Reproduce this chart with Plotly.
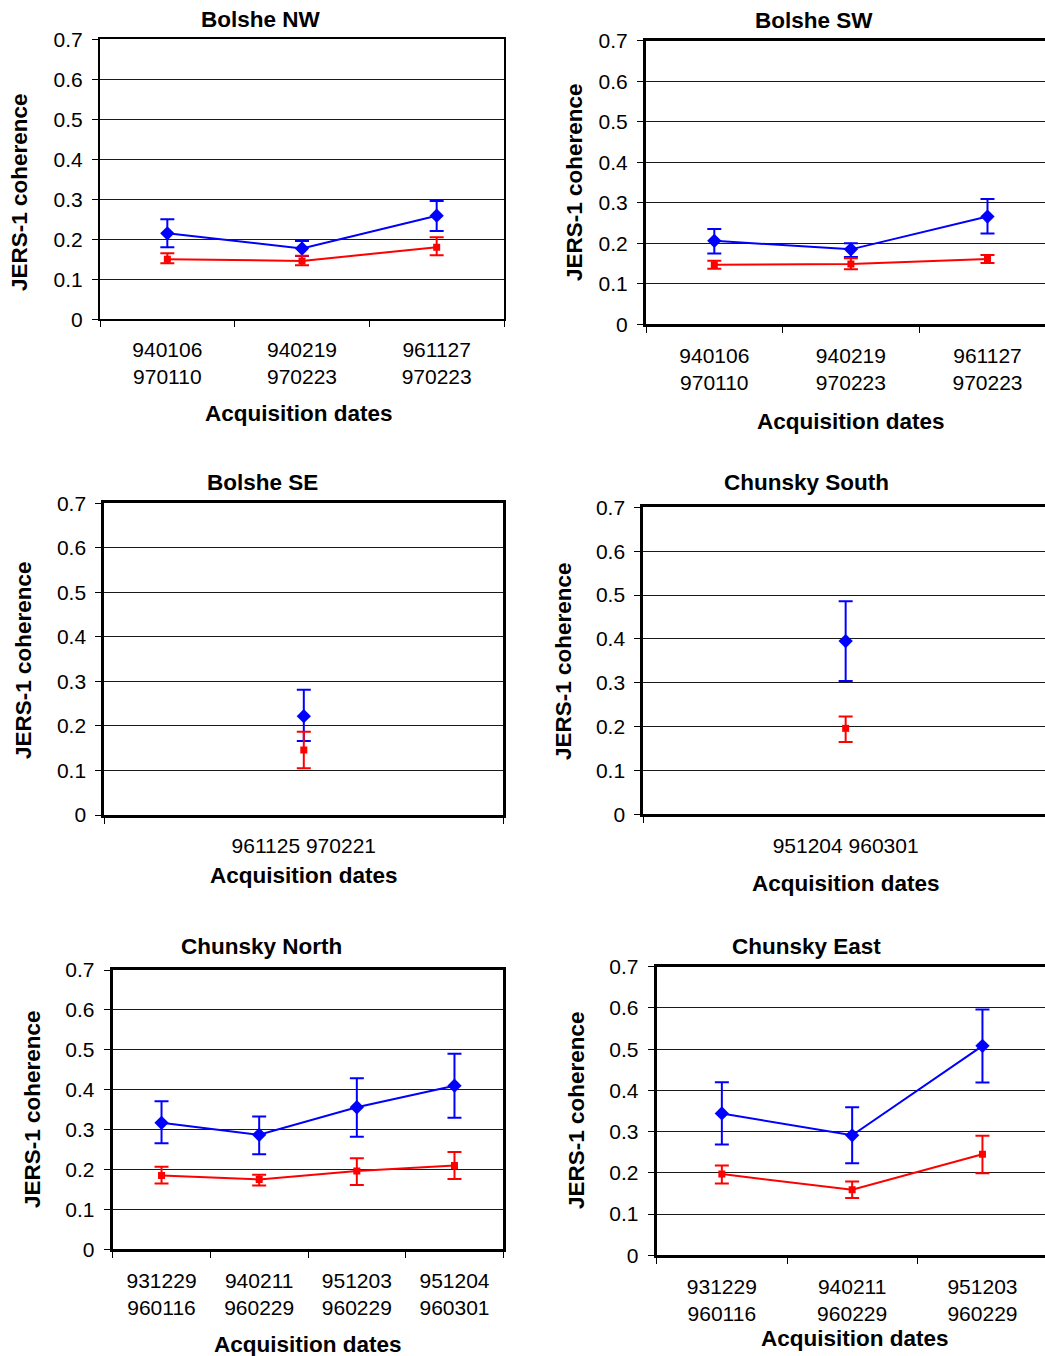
import plotly.graph_objects as go

W, H = 1045, 1356
FONT = "Liberation Sans, Arial, sans-serif"
BLUE = "#0000FF"
RED = "#FF0000"

# ---- data -------------------------------------------------------------
panel_titles = ["Bolshe NW", "Bolshe SW", "Bolshe SE",
                "Chunsky South", "Chunsky North", "Chunsky East"]

nw_dates = ["940106<br>970110", "940219<br>970223", "961127<br>970223"]
nw_blue = [0.215, 0.177, 0.259]
nw_blue_top = [0.250, 0.196, 0.296]
nw_blue_bot = [0.180, 0.158, 0.221]
nw_red = [0.150, 0.146, 0.180]
nw_red_top = [0.165, 0.159, 0.205]
nw_red_bot = [0.140, 0.135, 0.160]

sw_dates = ["940106<br>970110", "940219<br>970223", "961127<br>970223"]
sw_blue = [0.206, 0.185, 0.266]
sw_blue_top = [0.235, 0.200, 0.309]
sw_blue_bot = [0.175, 0.166, 0.224]
sw_red = [0.147, 0.149, 0.161]
sw_red_top = [0.157, 0.163, 0.171]
sw_red_bot = [0.137, 0.136, 0.151]

se_dates = ["961125 970221"]
se_blue = [0.222]
se_blue_top = [0.281]
se_blue_bot = [0.166]
se_red = [0.146]
se_red_top = [0.187]
se_red_bot = [0.105]

south_dates = ["951204 960301"]
south_blue = [0.395]
south_blue_top = [0.486]
south_blue_bot = [0.304]
south_red = [0.196]
south_red_top = [0.223]
south_red_bot = [0.165]

north_dates = ["931229<br>960116", "940211<br>960229",
               "951203<br>960229", "951204<br>960301"]
north_blue = [0.317, 0.287, 0.356, 0.410]
north_blue_top = [0.371, 0.333, 0.429, 0.490]
north_blue_bot = [0.266, 0.238, 0.282, 0.330]
north_red = [0.185, 0.175, 0.196, 0.210]
north_red_top = [0.207, 0.187, 0.228, 0.244]
north_red_bot = [0.165, 0.160, 0.161, 0.176]

east_dates = ["931229<br>960116", "940211<br>960229", "951203<br>960229"]
east_blue = [0.344, 0.291, 0.508]
east_blue_top = [0.420, 0.359, 0.596]
east_blue_bot = [0.269, 0.223, 0.419]
east_red = [0.197, 0.159, 0.245]
east_red_top = [0.218, 0.179, 0.290]
east_red_bot = [0.174, 0.139, 0.199]

y_ticks = [0, 0.1, 0.2, 0.3, 0.4, 0.5, 0.6, 0.7]
y_tick_text = ["0", "0.1", "0.2", "0.3", "0.4", "0.5", "0.6", "0.7"]

panels = [
    (nw_dates, nw_blue, nw_blue_top, nw_blue_bot, nw_red, nw_red_top, nw_red_bot),
    (sw_dates, sw_blue, sw_blue_top, sw_blue_bot, sw_red, sw_red_top, sw_red_bot),
    (se_dates, se_blue, se_blue_top, se_blue_bot, se_red, se_red_top, se_red_bot),
    (south_dates, south_blue, south_blue_top, south_blue_bot,
     south_red, south_red_top, south_red_bot),
    (north_dates, north_blue, north_blue_top, north_blue_bot,
     north_red, north_red_top, north_red_bot),
    (east_dates, east_blue, east_blue_top, east_blue_bot,
     east_red, east_red_top, east_red_bot),
]

# ---- layout geometry (pixels) ----------------------------------------
# plot box: left, right, top, bottom ; right-hand panels run off the page edge
boxes = [
    (100.0, 504.0, 39.3, 319.3),
    (646.0, 1045.0, 40.7, 324.3),
    (104.3, 503.3, 503.3, 815.0),
    (643.3, 1045.0, 507.3, 814.3),
    (112.7, 503.3, 970.0, 1249.3),
    (656.7, 1045.0, 966.7, 1255.3),
]
# x range upper limit (category units) for each panel
x_upper = [2.5, 2.421, 0.5, 0.4926, 3.5, 2.48]
frame_w = [2, 3, 3, 3, 3, 3]
right_frame = [True, False, True, False, True, False]

title_pos = [(261, 20), (814, 21), (262, 483), (806, 483), (261, 946), (806, 946)]
ytitle_pos = [(19, 192), (575, 182), (23, 660), (563, 661), (32, 1109), (576, 1110)]
xtitle_pos = [(299, 413), (851, 421), (304, 875), (846, 883), (308, 1344), (855, 1338)]


def px(x):
    return x / W


def py(y):
    return 1 - y / H


fig = go.Figure()
annotations = []

for i, (dates, b, bt, bb, r, rt, rb) in enumerate(panels):
    n = i + 1
    xa = "x" if n == 1 else f"x{n}"
    ya = "y" if n == 1 else f"y{n}"

    for vals, top, bot, color, symbol, size in (
        (b, bt, bb, BLUE, "diamond", 11),
        (r, rt, rb, RED, "square", 7),
    ):
        fig.add_trace(go.Scatter(
            x=dates, y=vals, xaxis=xa, yaxis=ya,
            mode="lines+markers",
            line=dict(color=color, width=2),
            marker=dict(symbol=symbol, size=size, color=color),
            error_y=dict(
                type="data", symmetric=False,
                array=[t - v for t, v in zip(top, vals)],
                arrayminus=[v - q for v, q in zip(vals, bot)],
                color=color, thickness=2, width=7,
            ),
            showlegend=False, hoverinfo="skip",
        ))

    left, right, top, bottom = boxes[i]
    xkey = "xaxis" if n == 1 else f"xaxis{n}"
    ykey = "yaxis" if n == 1 else f"yaxis{n}"
    fig.update_layout({
        xkey: dict(
            domain=[px(left), px(right)],
            anchor=ya, type="category",
            categoryorder="array", categoryarray=dates,
            range=[-0.5, x_upper[i]],
            tickson="boundaries", ticks="outside", ticklen=6, tickwidth=1,
            tickcolor="black",
            showline=True, linecolor="black", linewidth=frame_w[i],
            mirror=True, showgrid=False, zeroline=False,
            tickfont=dict(family=FONT, size=21, color="black"),
            ticklabelstandoff=10,
            automargin=False, fixedrange=True,
        ),
        ykey: dict(
            domain=[py(bottom), py(top)],
            anchor=xa, range=[0, 0.7],
            tickmode="array", tickvals=y_ticks, ticktext=y_tick_text,
            ticks="outside", ticklen=6, tickwidth=1, tickcolor="black",
            showline=True, linecolor="black", linewidth=frame_w[i],
            mirror=right_frame[i],
            showgrid=True, gridcolor="#1a1a1a", gridwidth=1,
            zeroline=False,
            tickfont=dict(family=FONT, size=21, color="black"),
            ticklabelstandoff=5,
            automargin=False, fixedrange=True,
        ),
    })

    tx, ty = title_pos[i]
    annotations.append(dict(
        x=px(tx), y=py(ty), xref="paper", yref="paper",
        text=f"<b>{panel_titles[i]}</b>", showarrow=False,
        xanchor="center", yanchor="middle",
        font=dict(family=FONT, size=22.5, color="black"),
    ))
    yx, yy = ytitle_pos[i]
    annotations.append(dict(
        x=px(yx), y=py(yy), xref="paper", yref="paper",
        text="<b>JERS-1 coherence</b>", showarrow=False, textangle=-90,
        xanchor="center", yanchor="middle",
        font=dict(family=FONT, size=22.5, color="black"),
    ))
    xx, xy = xtitle_pos[i]
    annotations.append(dict(
        x=px(xx), y=py(xy), xref="paper", yref="paper",
        text="<b>Acquisition dates</b>", showarrow=False,
        xanchor="center", yanchor="middle",
        font=dict(family=FONT, size=22.5, color="black"),
    ))

fig.update_layout(
    width=W, height=H,
    margin=dict(l=0, r=0, t=0, b=0, pad=0, autoexpand=False),
    paper_bgcolor="white", plot_bgcolor="white",
    showlegend=False,
    annotations=annotations,
    font=dict(family=FONT, color="black"),
)

fig.write_html("out.html", config={"displayModeBar": False})
